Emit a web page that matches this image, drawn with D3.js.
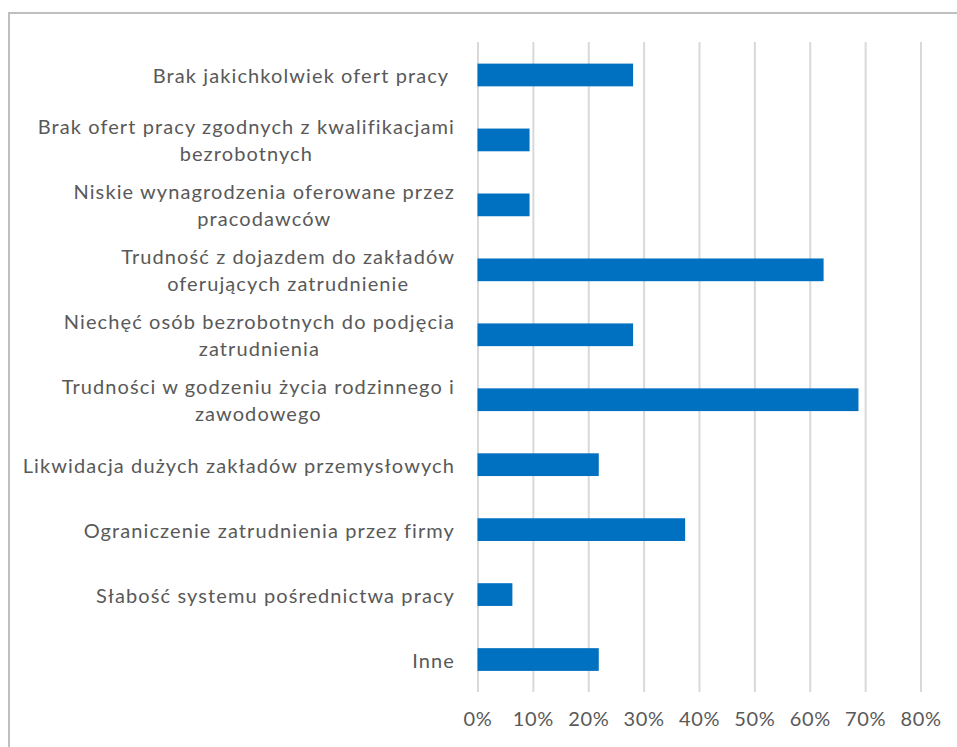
<!DOCTYPE html>
<html>
<head>
<meta charset="utf-8">
<script src="https://cdn.jsdelivr.net/npm/d3@7"></script>
<style>
  body { margin: 0; background: #fff; }
  text { font-family: Lato, "Open Sans", sans-serif; fill: #595959; white-space: pre; }
</style>
</head>
<body>
<svg id="graph" width="957" height="747"></svg>
<script>
// kategorie (| = nowa linia, tak jak na wykresie)
var kategorie = [
    "Brak jakichkolwiek ofert pracy ",
    "Brak ofert pracy zgodnych z kwalifikacjami|bezrobotnych",
    "Niskie wynagrodzenia oferowane przez|pracodawców",
    "Trudność z dojazdem do zakładów|oferujących zatrudnienie",
    "Niechęć osób bezrobotnych do podjęcia|zatrudnienia",
    "Trudności w godzeniu życia rodzinnego i|zawodowego",
    "Likwidacja dużych zakładów przemysłowych",
    "Ograniczenie zatrudnienia przez firmy",
    "Słabość systemu pośrednictwa pracy",
    "Inne"
];
var wartosci = [0.281, 0.094, 0.094, 0.625, 0.281, 0.688, 0.219, 0.375, 0.063, 0.219];
var ticksX = [0, 0.1, 0.2, 0.3, 0.4, 0.5, 0.6, 0.7, 0.8];

var data = kategorie.map((k, i) => ({ kategoria: k, wartosc: wartosci[i] }));

var svg = d3.select("#graph");

// ramka wykresu (prawa i dolna krawedz poza kadrem)
svg.append("rect")
    .attr("x", 9).attr("y", 13)
    .attr("width", 980).attr("height", 780)
    .attr("fill", "none")
    .attr("stroke", "#bfbfbf")
    .attr("stroke-width", 2);

var x = d3.scaleLinear()
    .domain([0, 0.8])
    .range([477.5, 920.5]);
var y = d3.scaleBand()
    .domain(kategorie)
    .range([42.5, 692])
    .paddingInner(0.65)
    .paddingOuter(0.325);

// linie siatki
svg.append("g")
    .attr("class", "grid")
    .attr("transform", "translate(0,692)")
    .call(d3.axisBottom(x).tickValues(ticksX).tickSize(-650).tickFormat(""))
    .call(g => g.select(".domain").remove())
    .call(g => g.selectAll("line").attr("stroke", "#d9d9d9").attr("stroke-width", 2));

// slupki
svg.append("g")
    .selectAll("rect")
    .data(data)
    .enter()
    .append("rect")
    .attr("x", x(0))
    .attr("y", d => y(d.kategoria))
    .attr("width", d => x(d.wartosc) - x(0))
    .attr("height", y.bandwidth())
    .attr("fill", "#0070c0");

// os X
svg.append("g")
    .attr("class", "xaxis")
    .attr("transform", "translate(0,692)")
    .call(d3.axisBottom(x).tickValues(ticksX).tickSize(0).tickPadding(20).tickFormat(d3.format(".0%")))
    .call(g => g.select(".domain").remove())
    .call(g => g.selectAll("text")
        .style("font-size", "20px")
        .style("letter-spacing", "0.6px")
        .attr("fill", "#595959")
        .style("font-family", "Lato, sans-serif"));

// etykiety kategorii - blok wyrownany do prawej, linie wysrodkowane
var prawaKrawedz = 455;
var lh = 27;
var etykiety = svg.append("g")
    .selectAll("text")
    .data(data)
    .enter()
    .append("text")
    .attr("text-anchor", "middle")
    .style("font-size", "20px")
    .style("letter-spacing", "1.1px")
    .attr("y", d => y(d.kategoria) + y.bandwidth() / 2);

etykiety.each(function (d) {
    var linie = d.kategoria.split("|");
    var t = d3.select(this);
    var start = -(linie.length - 1) * lh / 2;
    var spany = linie.map((l, i) => t.append("tspan")
        .attr("dy", i === 0 ? start : lh)
        .attr("dominant-baseline", "central")
        .text(l));
    var maxW = d3.max(spany, s => s.node().getComputedTextLength());
    spany.forEach(s => s.attr("x", prawaKrawedz - maxW / 2));
});
</script>
</body>
</html>
